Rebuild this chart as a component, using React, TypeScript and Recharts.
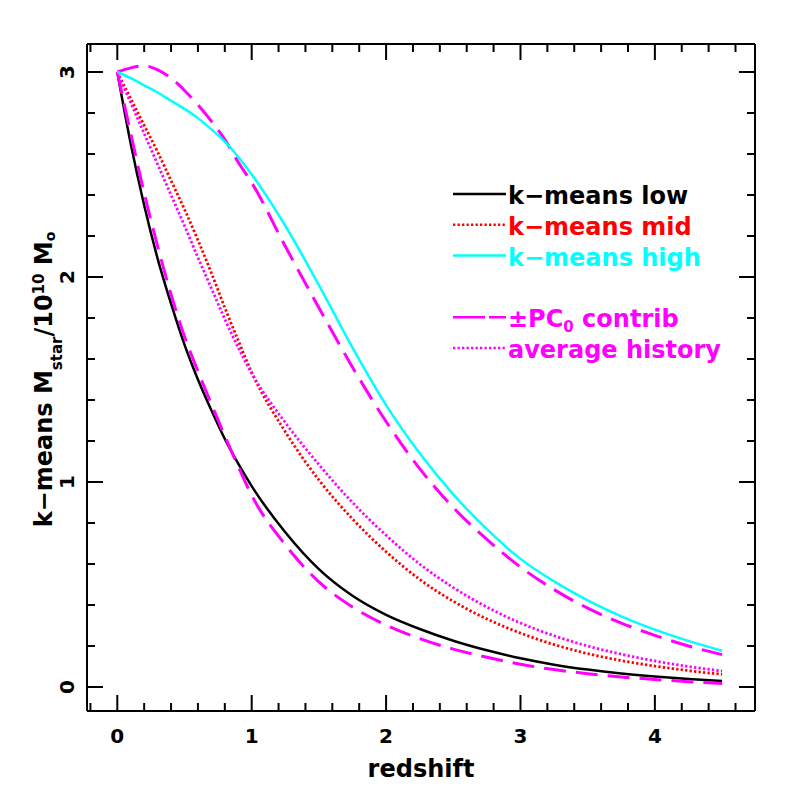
import { LineChart, Line, XAxis, YAxis } from 'recharts';

// redshift grid and the five mass histories
const REDSHIFT = [0, 0.1, 0.2, 0.3, 0.4, 0.5, 0.6, 0.7, 0.8, 0.9, 1.0, 1.25, 1.5, 1.75, 2.0, 2.25, 2.5, 2.75, 3.0, 3.25, 3.5, 3.75, 4.0, 4.25, 4.5];
const LOW = [3.0, 2.65, 2.35, 2.09, 1.87, 1.67, 1.5, 1.35, 1.21, 1.09, 0.98, 0.755, 0.575, 0.445, 0.352, 0.283, 0.226, 0.179, 0.14, 0.109, 0.085, 0.066, 0.051, 0.039, 0.029];
const MID = [3.0, 2.87, 2.74, 2.61, 2.47, 2.33, 2.18, 2.02, 1.85, 1.69, 1.535, 1.245, 1.01, 0.82, 0.66, 0.525, 0.418, 0.332, 0.263, 0.207, 0.163, 0.129, 0.102, 0.08, 0.062];
const HIGH = [3.0, 2.97, 2.935, 2.9, 2.86, 2.82, 2.775, 2.72, 2.66, 2.585, 2.5, 2.25, 1.96, 1.655, 1.375, 1.14, 0.94, 0.77, 0.625, 0.515, 0.423, 0.345, 0.28, 0.225, 0.177];
const PC_PLUS = [3.0, 3.02, 3.03, 3.01, 2.97, 2.91, 2.84, 2.76, 2.67, 2.56, 2.46, 2.15, 1.85, 1.56, 1.295, 1.065, 0.875, 0.72, 0.585, 0.475, 0.385, 0.312, 0.252, 0.2, 0.158];
const PC_MINUS = [3.0, 2.7, 2.41, 2.15, 1.915, 1.71, 1.54, 1.38, 1.225, 1.075, 0.935, 0.694, 0.513, 0.39, 0.302, 0.236, 0.185, 0.145, 0.111, 0.085, 0.065, 0.049, 0.037, 0.026, 0.017];
const AVERAGE = [3.0, 2.85, 2.7, 2.55, 2.4, 2.25, 2.095, 1.945, 1.795, 1.655, 1.53, 1.29, 1.085, 0.9, 0.74, 0.6, 0.485, 0.39, 0.312, 0.25, 0.2, 0.16, 0.127, 0.1, 0.078];

const X_TICKS = [-0.2, 0, 0.2, 0.4, 0.6, 0.8, 1, 1.2, 1.4, 1.6, 1.8, 2, 2.2, 2.4, 2.6, 2.8, 3, 3.2, 3.4, 3.6, 3.8, 4, 4.2, 4.4, 4.6];
const Y_TICKS = [0, 0.2, 0.4, 0.6, 0.8, 1, 1.2, 1.4, 1.6, 1.8, 2, 2.2, 2.4, 2.6, 2.8, 3];

const X_DOMAIN = [-0.2254, 4.745];
const Y_DOMAIN = [-0.117, 3.1366];

const data = REDSHIFT.map((z, i) => ({
  z,
  low: LOW[i],
  mid: MID[i],
  high: HIGH[i],
  pcPlus: PC_PLUS[i],
  pcMinus: PC_MINUS[i],
  avg: AVERAGE[i],
}));

const DOTS = '2.3 2.2';
const DASHES = '22 10';

// 'high' is tied to the top/right axes so those get drawn too (same domains)
const SERIES = [
  { key: 'low', color: '#000000', dash: undefined, width: 2.5, top: false },
  { key: 'mid', color: '#ff0000', dash: DOTS, width: 2.8, top: false },
  { key: 'avg', color: '#ff00ff', dash: DOTS, width: 2.8, top: false },
  { key: 'pcMinus', color: '#ff00ff', dash: DASHES, width: 3, top: false },
  { key: 'pcPlus', color: '#ff00ff', dash: DASHES, width: 3, top: false },
  { key: 'high', color: '#00ffff', dash: undefined, width: 2.5, top: true },
];

const LEGEND = [
  { label: 'k−means low', color: '#000000', dash: undefined, row: 0 },
  { label: 'k−means mid', color: '#ff0000', dash: DOTS, row: 1 },
  { label: 'k−means high', color: '#00ffff', dash: undefined, row: 2 },
  { label: '±PC', sub: '0', rest: ' contrib', color: '#ff00ff', dash: '32 4', row: 4 },
  { label: 'average history', color: '#ff00ff', dash: DOTS, row: 5 },
];

const FONT = '"DejaVu Sans", sans-serif';
const MAJOR = 16;
const MINOR = 8;

const isMajor = (v: number) => Number.isInteger(v);

const BottomTick = ({ x, y, payload }: any) => {
  const major = isMajor(payload.value);
  return (
    <g>
      <line x1={x} y1={y} x2={x} y2={y - (major ? MAJOR : MINOR)} stroke="#000" strokeWidth={2} />
      {major && (
        <text x={x} y={y + 32} textAnchor="middle" fontFamily={FONT} fontWeight="bold" fontSize={20} fill="#000">
          {payload.value}
        </text>
      )}
    </g>
  );
};

const TopTick = ({ x, y, payload }: any) => (
  <line x1={x} y1={y} x2={x} y2={y + (isMajor(payload.value) ? MAJOR : MINOR)} stroke="#000" strokeWidth={2} />
);

const LeftTick = ({ x, y, payload }: any) => {
  const major = isMajor(payload.value);
  const lx = x - 13;
  return (
    <g>
      <line x1={x} y1={y} x2={x + (major ? MAJOR : MINOR)} y2={y} stroke="#000" strokeWidth={2} />
      {major && (
        <text x={lx} y={y} transform={`rotate(-90 ${lx} ${y})`} textAnchor="middle" fontFamily={FONT} fontWeight="bold" fontSize={20} fill="#000">
          {payload.value}
        </text>
      )}
    </g>
  );
};

const RightTick = ({ x, y, payload }: any) => (
  <line x1={x} y1={y} x2={x - (isMajor(payload.value) ? MAJOR : MINOR)} y2={y} stroke="#000" strokeWidth={2} />
);

const XTitle = ({ viewBox }: any) => (
  <text x={viewBox.x + viewBox.width / 2} y={viewBox.y + 66} textAnchor="middle" fontFamily={FONT} fontWeight="bold" fontSize={24} fill="#000">
    redshift
  </text>
);

const YTitle = ({ viewBox }: any) => {
  const x = viewBox.x + 15;
  const y = viewBox.y + viewBox.height / 2 + 2;
  return (
    <text x={x} y={y} transform={`rotate(-90 ${x} ${y})`} textAnchor="middle" fontFamily={FONT} fontWeight="bold" fontSize={24} fill="#000">
      k−means M
      <tspan fontSize={15} dy={10}>star</tspan>
      <tspan dy={-10}>/10</tspan>
      <tspan fontSize={15} dy={-8}>10</tspan>
      <tspan dy={8}> M</tspan>
      <tspan fontSize={14} dy={3}>o</tspan>
    </text>
  );
};

const LegendBox = () => (
  <g>
    {LEGEND.map((e) => {
      const y = 194 + e.row * 30.8;
      return (
        <g key={e.label}>
          <line x1={453} y1={y} x2={506} y2={y} stroke={e.color} strokeWidth={2.5} strokeDasharray={e.dash} />
          <text x={508} y={y + 10} fontFamily={FONT} fontWeight="bold" fontSize={24} fill={e.color}>
            {e.label}
            {e.sub && <tspan fontSize={15} dy={5}>{e.sub}</tspan>}
            {e.rest && <tspan dy={-5}>{e.rest}</tspan>}
          </text>
        </g>
      );
    })}
  </g>
);

const axisLine = { stroke: '#000', strokeWidth: 2 };

export default function App() {
  return (
    <div style={{ position: 'absolute', left: 0, top: 0, background: '#fff' }}>
      <LineChart width={797} height={797} data={data} margin={{ top: 43, right: 41, bottom: 26, left: 37 }}>
        <XAxis
          dataKey="z"
          type="number"
          domain={X_DOMAIN}
          allowDataOverflow
          ticks={X_TICKS}
          interval={0}
          tickSize={0}
          tickMargin={0}
          tick={<BottomTick />}
          axisLine={axisLine}
          height={60}
          label={<XTitle />}
        />
        <XAxis
          xAxisId="top"
          dataKey="z"
          orientation="top"
          type="number"
          domain={X_DOMAIN}
          allowDataOverflow
          ticks={X_TICKS}
          interval={0}
          tickSize={0}
          tickMargin={0}
          tick={<TopTick />}
          axisLine={axisLine}
          height={1}
        />
        <YAxis
          type="number"
          domain={Y_DOMAIN}
          allowDataOverflow
          ticks={Y_TICKS}
          interval={0}
          tickSize={0}
          tickMargin={0}
          tick={<LeftTick />}
          axisLine={axisLine}
          width={50}
          label={<YTitle />}
        />
        <YAxis
          yAxisId="right"
          orientation="right"
          type="number"
          domain={Y_DOMAIN}
          allowDataOverflow
          ticks={Y_TICKS}
          interval={0}
          tickSize={0}
          tickMargin={0}
          tick={<RightTick />}
          axisLine={axisLine}
          width={1}
        />
        {SERIES.map((s) => (
          <Line
            key={s.key}
            dataKey={s.key}
            xAxisId={s.top ? 'top' : 0}
            yAxisId={s.top ? 'right' : 0}
            type="monotone"
            stroke={s.color}
            strokeWidth={s.width}
            strokeDasharray={s.dash}
            dot={false}
            activeDot={false}
            isAnimationActive={false}
          />
        ))}
        <LegendBox />
      </LineChart>
    </div>
  );
}
